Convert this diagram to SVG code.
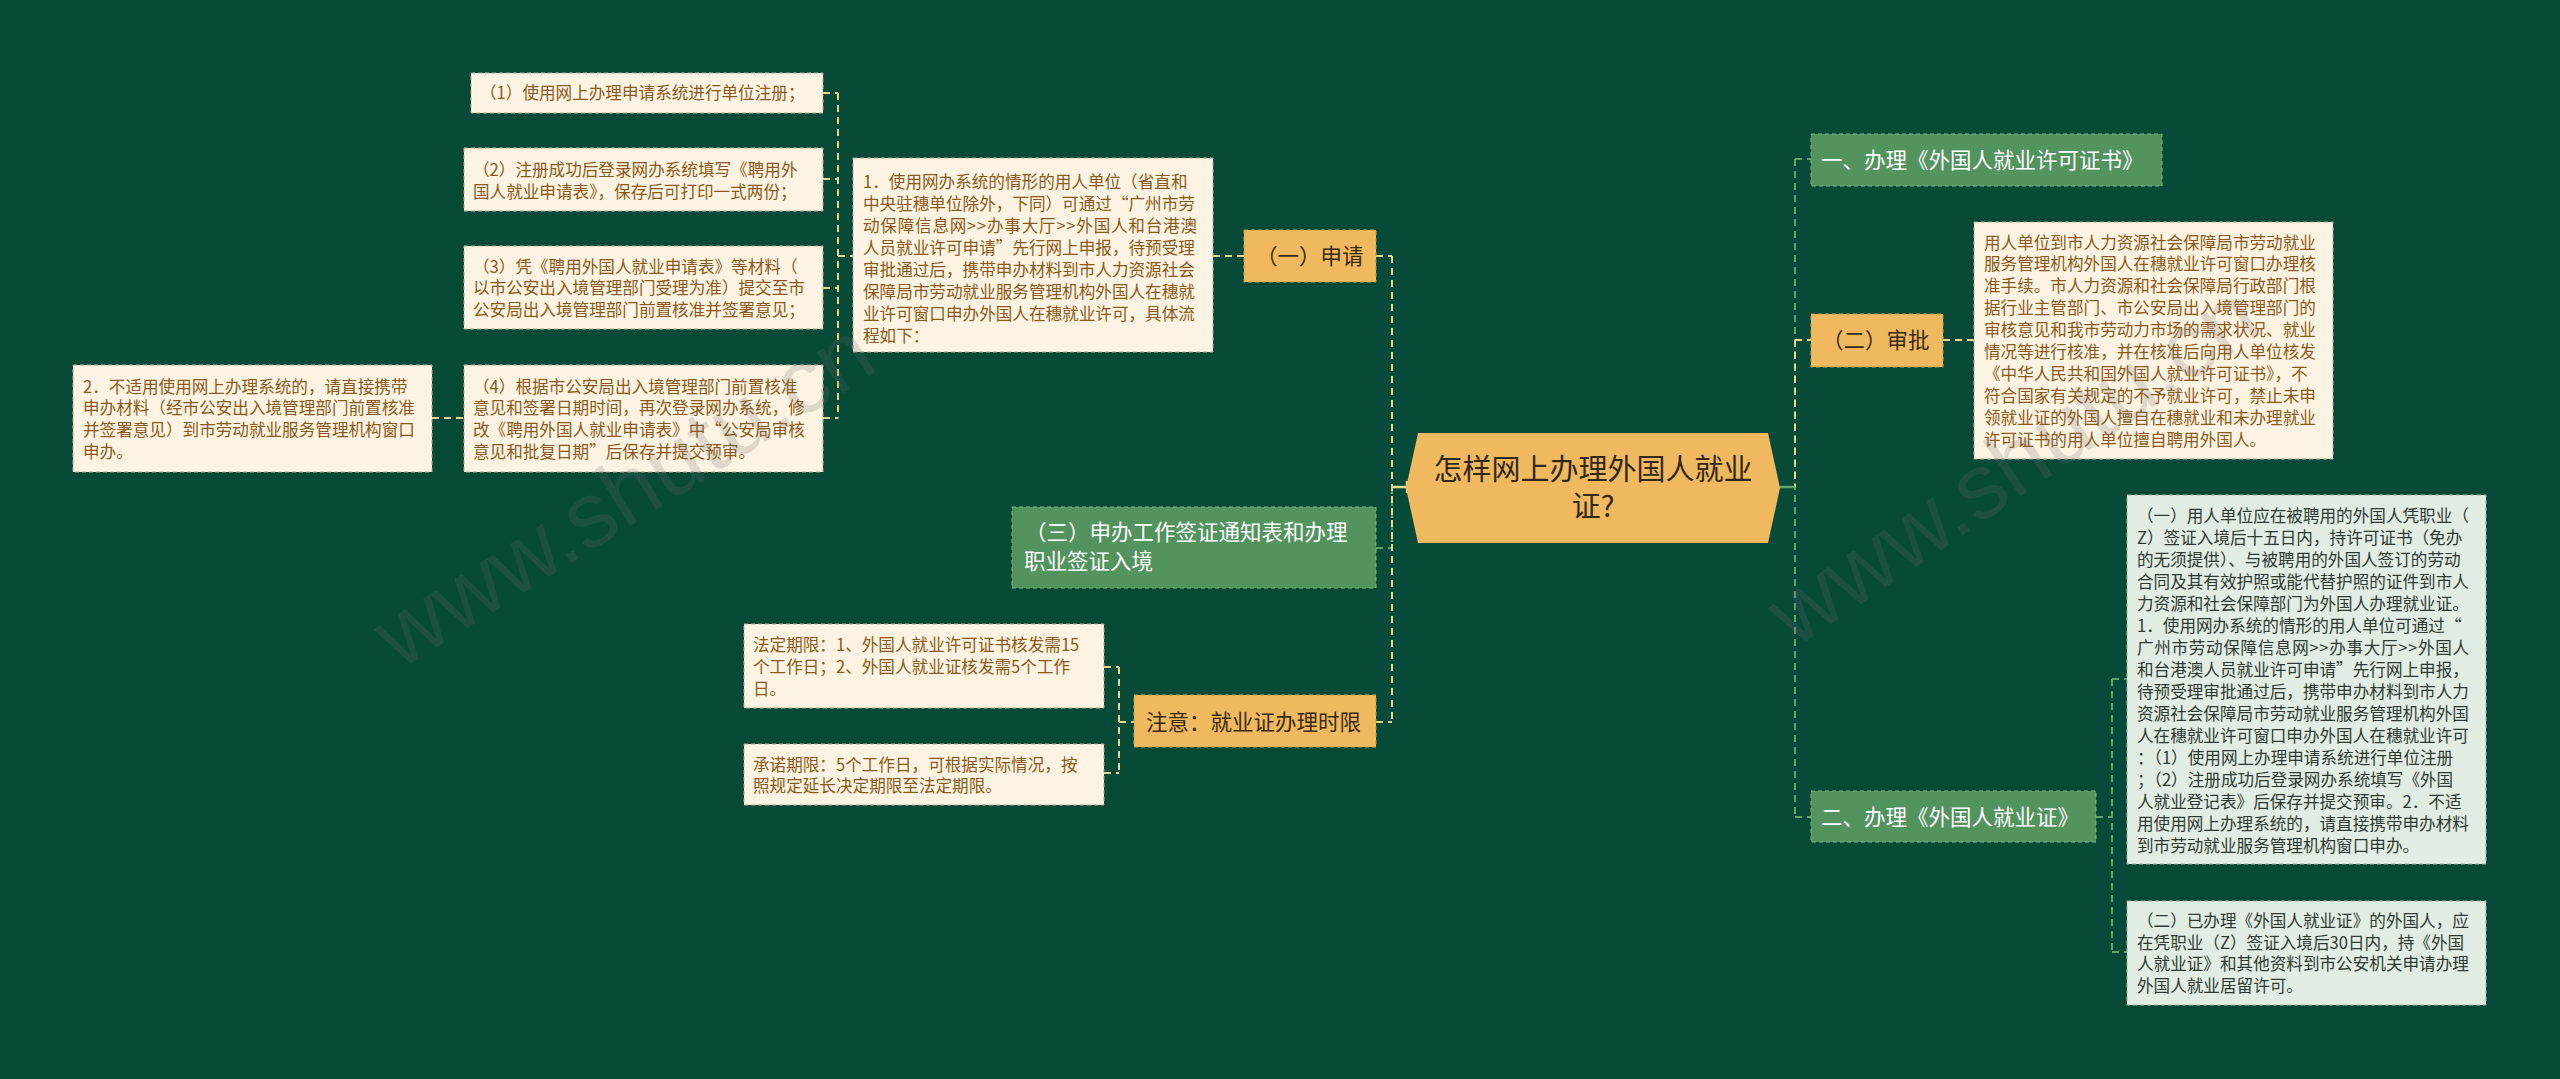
<svg xmlns="http://www.w3.org/2000/svg" width="2560" height="1079" viewBox="0 0 2560 1079">
<style>
.bg{fill:#074a38}
.cy{fill:none;stroke:#e8da8c;stroke-width:2;stroke-dasharray:7 5}
.cg{fill:none;stroke:#5fa26a;stroke-width:2;stroke-dasharray:7 5}
.sy{fill:none;stroke:#e8da8c;stroke-width:2.5}
.sg{fill:none;stroke:#5fa26a;stroke-width:2.5}
.or{fill:#f0b95f;stroke:#c99a45;stroke-width:1;stroke-dasharray:4 3}
.gr{fill:#53935e;stroke:#7bb384;stroke-width:1;stroke-dasharray:4 3}
.cr{fill:#fdf3e2;stroke:#b9a98e;stroke-width:1;stroke-dasharray:4 3}
.lg{fill:#e1ece2;stroke:#9fb6a3;stroke-width:1;stroke-dasharray:4 3}
text{font-family:"Noto Sans CJK SC","Noto Sans",sans-serif}
.tc{font-size:16.6px;fill:#8b5a17}
.tl{font-size:16.6px;fill:#2f3a33}
.tb{font-size:21.5px;fill:#3a2a14}
.tw{font-size:21.5px;fill:#ffffff}
.tt{font-size:29px;fill:#33281a}
.wm{font-family:"Liberation Sans",Arial,sans-serif;font-size:92px;fill:#6a6a6a;opacity:0.2}
</style>
<rect class="bg" x="0" y="0" width="2560" height="1079"/>
<g id="connectors">
  <path class="cg" d="M1392 487 V548 M1376 548 H1392"/>
  <path class="cy" d="M1392 256 V722 M1376 256 H1392 M1376 722 H1392"/>
  <path class="sy" d="M1392 487 H1407 M1407 481 V493"/>
  <path class="cy" d="M1213 256 H1244"/>
  <path class="cy" d="M838 93 V418 M823 93 H838 M823 179 H838 M823 288 H838 M823 418 H838 M838 256 H853"/>
  <path class="cy" d="M432 418 H464"/>
  <path class="cy" d="M1119 667 V773 M1119 722 H1134 M1104 667 H1119 M1104 773 H1119"/>
  <path class="cg" d="M1795 159 V817 M1795 159 H1811 M1795 817 H1811"/>
  <path class="cy" d="M1795 340 V487 M1795 340 H1811 M1943 340 H1974"/>
  <path class="sg" d="M1780 487 H1795"/>
  <path class="cg" d="M2096 817 H2112 M2112 679 V952 M2112 679 H2127 M2112 952 H2127"/>
</g>
<g id="center">
  <polygon points="1418,433 1768,433 1780,488 1768,543 1418,543 1406,488" fill="#f0b95f"/>
  <text class="tt" x="1593" y="480" text-anchor="middle">怎样网上办理外国人就业</text>
  <text class="tt" x="1593" y="517" text-anchor="middle">证?</text>
</g>
<g id="n-shenqing">
  <rect class="or" x="1244" y="230" width="132" height="52"/>
  <text class="tb" x="1256" y="264">（一）申请</text>
</g>
<g id="n-1">
  <rect class="cr" x="853" y="158" width="360" height="194"/>
  <text class="tc" x="863" y="188">1．使用网办系统的情形的用人单位（省直和</text>
  <text class="tc" x="863" y="210">中央驻穗单位除外，下同）可通过“广州市劳</text>
  <text class="tc" x="863" y="232" textLength="334" lengthAdjust="spacing">动保障信息网&gt;&gt;办事大厅&gt;&gt;外国人和台港澳</text>
  <text class="tc" x="863" y="254">人员就业许可申请”先行网上申报，待预受理</text>
  <text class="tc" x="863" y="276">审批通过后，携带申办材料到市人力资源社会</text>
  <text class="tc" x="863" y="298">保障局市劳动就业服务管理机构外国人在穗就</text>
  <text class="tc" x="863" y="320">业许可窗口申办外国人在穗就业许可，具体流</text>
  <text class="tc" x="863" y="342">程如下：</text>
</g>
<g id="n-s1">
  <rect class="cr" x="471" y="73" width="352" height="40"/>
  <text class="tc" x="480" y="99">（1）使用网上办理申请系统进行单位注册；</text>
</g>
<g id="n-s2">
  <rect class="cr" x="464" y="148" width="359" height="63"/>
  <text class="tc" x="473" y="176">（2）注册成功后登录网办系统填写《聘用外</text>
  <text class="tc" x="473" y="198">国人就业申请表》，保存后可打印一式两份；</text>
</g>
<g id="n-s3">
  <rect class="cr" x="464" y="246" width="359" height="83"/>
  <text class="tc" x="473" y="273">（3）凭《聘用外国人就业申请表》等材料（</text>
  <text class="tc" x="473" y="294">以市公安出入境管理部门受理为准）提交至市</text>
  <text class="tc" x="473" y="316">公安局出入境管理部门前置核准并签署意见；</text>
</g>
<g id="n-s4">
  <rect class="cr" x="464" y="365" width="359" height="107"/>
  <text class="tc" x="473" y="393">（4）根据市公安局出入境管理部门前置核准</text>
  <text class="tc" x="473" y="414">意见和签署日期时间，再次登录网办系统，修</text>
  <text class="tc" x="473" y="436">改《聘用外国人就业申请表》中“公安局审核</text>
  <text class="tc" x="473" y="458">意见和批复日期”后保存并提交预审。</text>
</g>
<g id="n-2">
  <rect class="cr" x="73" y="365" width="359" height="107"/>
  <text class="tc" x="83" y="393">2．不适用使用网上办理系统的，请直接携带</text>
  <text class="tc" x="83" y="414">申办材料（经市公安出入境管理部门前置核准</text>
  <text class="tc" x="83" y="436">并签署意见）到市劳动就业服务管理机构窗口</text>
  <text class="tc" x="83" y="458">申办。</text>
</g>
<g id="n-san">
  <rect class="gr" x="1012" y="507" width="364" height="81"/>
  <text class="tw" x="1025" y="540">（三）申办工作签证通知表和办理</text>
  <text class="tw" x="1024" y="569">职业签证入境</text>
</g>
<g id="n-zhuyi">
  <rect class="or" x="1134" y="695" width="242" height="52"/>
  <text class="tb" x="1146" y="730">注意：就业证办理时限</text>
</g>
<g id="n-fading">
  <rect class="cr" x="744" y="624" width="360" height="84"/>
  <text class="tc" x="753" y="651">法定期限：1、外国人就业许可证书核发需15</text>
  <text class="tc" x="753" y="673">个工作日；2、外国人就业证核发需5个工作</text>
  <text class="tc" x="753" y="695">日。</text>
</g>
<g id="n-chengnuo">
  <rect class="cr" x="744" y="744" width="360" height="61"/>
  <text class="tc" x="753" y="771">承诺期限：5个工作日，可根据实际情况，按</text>
  <text class="tc" x="753" y="792">照规定延长决定期限至法定期限。</text>
</g>
<g id="n-yi">
  <rect class="gr" x="1811" y="134" width="351" height="52"/>
  <text class="tw" x="1821" y="168">一、办理《外国人就业许可证书》</text>
</g>
<g id="n-shenpi">
  <rect class="or" x="1811" y="314" width="132" height="53"/>
  <text class="tb" x="1822" y="348">（二）审批</text>
</g>
<g id="n-shenpi-text">
  <rect class="cr" x="1974" y="222" width="359" height="237"/>
  <text class="tc" x="1984" y="249">用人单位到市人力资源社会保障局市劳动就业</text>
  <text class="tc" x="1984" y="270">服务管理机构外国人在穗就业许可窗口办理核</text>
  <text class="tc" x="1984" y="292">准手续。市人力资源和社会保障局行政部门根</text>
  <text class="tc" x="1984" y="314">据行业主管部门、市公安局出入境管理部门的</text>
  <text class="tc" x="1984" y="336">审核意见和我市劳动力市场的需求状况、就业</text>
  <text class="tc" x="1984" y="358">情况等进行核准，并在核准后向用人单位核发</text>
  <text class="tc" x="1984" y="380">《中华人民共和国外国人就业许可证书》，不</text>
  <text class="tc" x="1984" y="402">符合国家有关规定的不予就业许可，禁止未申</text>
  <text class="tc" x="1984" y="424">领就业证的外国人擅自在穗就业和未办理就业</text>
  <text class="tc" x="1984" y="446">许可证书的用人单位擅自聘用外国人。</text>
</g>
<g id="n-er">
  <rect class="gr" x="1811" y="791" width="285" height="51"/>
  <text class="tw" x="1821" y="825">二、办理《外国人就业证》</text>
</g>
<g id="n-er-1">
  <rect class="lg" x="2127" y="495" width="359" height="369"/>
  <text class="tl" x="2137" y="522">（一）用人单位应在被聘用的外国人凭职业（</text>
  <text class="tl" x="2137" y="544">Z）签证入境后十五日内，持许可证书（免办</text>
  <text class="tl" x="2137" y="566">的无须提供）、与被聘用的外国人签订的劳动</text>
  <text class="tl" x="2137" y="588">合同及其有效护照或能代替护照的证件到市人</text>
  <text class="tl" x="2137" y="610">力资源和社会保障部门为外国人办理就业证。</text>
  <text class="tl" x="2137" y="632">1．使用网办系统的情形的用人单位可通过“</text>
  <text class="tl" x="2137" y="654" textLength="332" lengthAdjust="spacing">广州市劳动保障信息网&gt;&gt;办事大厅&gt;&gt;外国人</text>
  <text class="tl" x="2137" y="676">和台港澳人员就业许可申请”先行网上申报，</text>
  <text class="tl" x="2137" y="698">待预受理审批通过后，携带申办材料到市人力</text>
  <text class="tl" x="2137" y="720">资源社会保障局市劳动就业服务管理机构外国</text>
  <text class="tl" x="2137" y="742">人在穗就业许可窗口申办外国人在穗就业许可</text>
  <text class="tl" x="2137" y="764">：（1）使用网上办理申请系统进行单位注册</text>
  <text class="tl" x="2137" y="786">；（2）注册成功后登录网办系统填写《外国</text>
  <text class="tl" x="2137" y="808">人就业登记表》后保存并提交预审。2．不适</text>
  <text class="tl" x="2137" y="830">用使用网上办理系统的，请直接携带申办材料</text>
  <text class="tl" x="2137" y="852">到市劳动就业服务管理机构窗口申办。</text>
</g>
<g id="n-er-2">
  <rect class="lg" x="2127" y="901" width="359" height="104"/>
  <text class="tl" x="2137" y="927">（二）已办理《外国人就业证》的外国人，应</text>
  <text class="tl" x="2137" y="949">在凭职业（Z）签证入境后30日内，持《外国</text>
  <text class="tl" x="2137" y="970">人就业证》和其他资料到市公安机关申请办理</text>
  <text class="tl" x="2137" y="992">外国人就业居留许可。</text>
</g>
<g id="watermarks">
  <text class="wm" x="0" y="0" text-anchor="middle" transform="translate(640,520) rotate(-32)">www.shutu.cn</text>
  <text class="wm" x="0" y="0" text-anchor="middle" transform="translate(2030,490) rotate(-34)">www.shutu.cn</text>
</g>
</svg>
